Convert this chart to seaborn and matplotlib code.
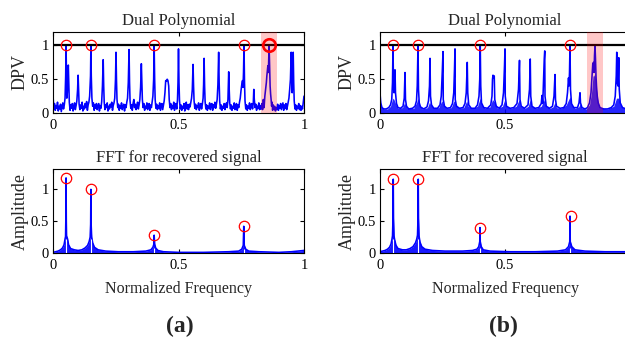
import matplotlib
matplotlib.use("Agg")
import matplotlib.pyplot as plt
import numpy as np
import pandas as pd
import seaborn as sns

# ---------------- data ----------------
ticks = [0, 0.5, 1]
tick_labels = ["0", "0.5", "1"]
ticks_right = [0, 0.5]            # the "1" of panels (b) lies beyond the figure edge
tick_labels_right = ["0", "0.5"]

# Dual polynomial (a): (normalized frequency, DPV)
dpv_a = [
    (0.000, 0.26), (0.003, 0.08), (0.006, 0.14), (0.009, 0.04), (0.012, 0.11), (0.015, 0.07),
    (0.018, 0.16), (0.021, 0.03), (0.024, 0.10), (0.027, 0.06), (0.030, 0.13), (0.033, 0.02),
    (0.036, 0.09), (0.039, 0.15), (0.042, 0.06), (0.045, 0.12), (0.048, 0.22), (0.0505, 0.55),
    (0.052, 1.00), (0.0535, 0.55), (0.055, 0.22), (0.057, 0.30), (0.059, 0.55), (0.061, 0.71),
    (0.063, 0.45), (0.065, 0.16), (0.068, 0.04), (0.071, 0.12), (0.074, 0.07), (0.077, 0.14),
    (0.080, 0.03), (0.083, 0.10), (0.086, 0.15), (0.089, 0.05), (0.092, 0.11), (0.095, 0.18),
    (0.098, 0.35), (0.100, 0.56), (0.102, 0.32), (0.104, 0.13), (0.107, 0.05), (0.110, 0.12),
    (0.113, 0.07), (0.116, 0.16), (0.119, 0.03), (0.122, 0.10), (0.125, 0.06), (0.128, 0.14),
    (0.131, 0.08), (0.134, 0.17), (0.137, 0.04), (0.140, 0.12), (0.143, 0.16), (0.146, 0.25),
    (0.1495, 0.55), (0.151, 1.00), (0.1525, 0.55), (0.155, 0.22), (0.158, 0.10), (0.161, 0.15),
    (0.164, 0.04), (0.167, 0.12), (0.170, 0.07), (0.173, 0.14), (0.176, 0.05), (0.179, 0.10),
    (0.182, 0.14), (0.185, 0.03), (0.188, 0.11), (0.191, 0.07), (0.194, 0.17), (0.197, 0.40),
    (0.200, 0.79), (0.202, 0.40), (0.204, 0.16), (0.207, 0.05), (0.210, 0.12), (0.213, 0.08),
    (0.216, 0.15), (0.219, 0.03), (0.222, 0.10), (0.225, 0.06), (0.228, 0.13), (0.231, 0.09),
    (0.234, 0.16), (0.237, 0.04), (0.240, 0.11), (0.243, 0.15), (0.246, 0.22), (0.249, 0.50),
    (0.251, 0.90), (0.253, 0.48), (0.255, 0.20), (0.258, 0.08), (0.261, 0.13), (0.264, 0.04),
    (0.267, 0.11), (0.270, 0.07), (0.273, 0.15), (0.276, 0.05), (0.279, 0.10), (0.282, 0.13),
    (0.285, 0.03), (0.288, 0.12), (0.291, 0.08), (0.294, 0.16), (0.297, 0.22), (0.300, 0.45),
    (0.303, 0.94), (0.305, 0.45), (0.307, 0.18), (0.310, 0.07), (0.313, 0.12), (0.316, 0.04),
    (0.319, 0.14), (0.322, 0.20), (0.325, 0.08), (0.328, 0.13), (0.331, 0.05), (0.334, 0.11),
    (0.337, 0.16), (0.340, 0.06), (0.343, 0.12), (0.346, 0.20), (0.349, 0.38), (0.352, 0.73),
    (0.354, 0.45), (0.356, 0.20), (0.359, 0.08), (0.362, 0.14), (0.365, 0.04), (0.368, 0.10),
    (0.371, 0.07), (0.374, 0.15), (0.377, 0.05), (0.380, 0.11), (0.383, 0.14), (0.386, 0.04),
    (0.389, 0.12), (0.392, 0.08), (0.395, 0.17), (0.398, 0.25), (0.401, 0.50), (0.403, 1.00),
    (0.405, 0.50), (0.407, 0.20), (0.410, 0.07), (0.413, 0.13), (0.416, 0.05), (0.419, 0.11),
    (0.422, 0.07), (0.425, 0.15), (0.428, 0.04), (0.431, 0.10), (0.434, 0.14), (0.437, 0.05),
    (0.440, 0.12), (0.443, 0.18), (0.446, 0.30), (0.449, 0.48), (0.452, 0.47), (0.455, 0.50),
    (0.458, 0.48), (0.461, 0.40), (0.463, 0.20), (0.466, 0.08), (0.469, 0.14), (0.472, 0.05),
    (0.475, 0.11), (0.478, 0.07), (0.481, 0.16), (0.484, 0.04), (0.487, 0.10), (0.490, 0.14),
    (0.493, 0.06), (0.496, 0.20), (0.498, 0.45), (0.500, 0.95), (0.502, 0.45), (0.504, 0.18),
    (0.507, 0.06), (0.510, 0.12), (0.513, 0.04), (0.516, 0.10), (0.519, 0.07), (0.522, 0.14),
    (0.525, 0.03), (0.528, 0.11), (0.531, 0.16), (0.534, 0.06), (0.537, 0.12), (0.540, 0.05),
    (0.543, 0.13), (0.546, 0.09), (0.549, 0.16), (0.552, 0.22), (0.555, 0.35), (0.558, 0.72),
    (0.560, 0.40), (0.562, 0.18), (0.565, 0.07), (0.568, 0.13), (0.571, 0.05), (0.574, 0.11),
    (0.577, 0.08), (0.580, 0.15), (0.583, 0.04), (0.586, 0.10), (0.589, 0.14), (0.592, 0.06),
    (0.595, 0.13), (0.598, 0.22), (0.600, 0.42), (0.602, 0.81), (0.604, 0.40), (0.606, 0.17),
    (0.609, 0.06), (0.612, 0.12), (0.615, 0.04), (0.618, 0.10), (0.621, 0.07), (0.624, 0.15),
    (0.627, 0.05), (0.630, 0.11), (0.633, 0.14), (0.636, 0.04), (0.639, 0.12), (0.642, 0.08),
    (0.645, 0.16), (0.648, 0.07), (0.651, 0.13), (0.654, 0.20), (0.657, 0.42), (0.660, 0.90),
    (0.662, 0.45), (0.664, 0.18), (0.667, 0.06), (0.670, 0.12), (0.673, 0.04), (0.676, 0.10),
    (0.679, 0.07), (0.682, 0.14), (0.685, 0.05), (0.688, 0.11), (0.691, 0.15), (0.694, 0.08),
    (0.697, 0.20), (0.700, 0.61), (0.702, 0.35), (0.704, 0.15), (0.707, 0.06), (0.710, 0.12),
    (0.713, 0.04), (0.716, 0.10), (0.719, 0.07), (0.722, 0.15), (0.725, 0.05), (0.728, 0.11),
    (0.731, 0.14), (0.734, 0.04), (0.737, 0.12), (0.740, 0.08), (0.743, 0.16), (0.746, 0.22),
    (0.749, 0.33), (0.752, 0.42), (0.755, 0.48), (0.757, 0.38), (0.759, 0.60), (0.761, 1.00),
    (0.763, 0.45), (0.765, 0.18), (0.768, 0.06), (0.771, 0.12), (0.774, 0.04), (0.777, 0.10),
    (0.780, 0.07), (0.783, 0.15), (0.786, 0.05), (0.789, 0.11), (0.792, 0.14), (0.795, 0.06),
    (0.798, 0.15), (0.800, 0.35), (0.802, 0.20), (0.805, 0.08), (0.808, 0.13), (0.811, 0.04),
    (0.814, 0.10), (0.817, 0.07), (0.820, 0.15), (0.823, 0.05), (0.826, 0.11), (0.829, 0.06),
    (0.832, 0.14), (0.835, 0.05), (0.838, 0.20), (0.841, 0.08), (0.844, 0.25), (0.847, 0.35),
    (0.850, 0.45), (0.852, 0.55), (0.854, 0.62), (0.856, 0.70), (0.858, 0.60), (0.860, 0.85),
    (0.861, 1.00), (0.863, 0.70), (0.865, 0.40), (0.867, 0.28), (0.869, 0.20), (0.871, 0.10),
    (0.873, 0.16), (0.875, 0.04), (0.877, 0.12), (0.880, 0.06), (0.883, 0.10), (0.886, 0.03),
    (0.889, 0.08), (0.892, 0.05), (0.895, 0.13), (0.898, 0.04), (0.901, 0.11), (0.904, 0.07),
    (0.907, 0.14), (0.910, 0.05), (0.913, 0.10), (0.916, 0.15), (0.919, 0.04), (0.922, 0.12),
    (0.925, 0.07), (0.928, 0.14), (0.931, 0.05), (0.934, 0.10), (0.937, 0.16), (0.940, 0.22),
    (0.943, 0.35), (0.946, 0.50), (0.949, 0.90), (0.951, 0.50), (0.953, 0.30), (0.955, 0.55),
    (0.957, 0.90), (0.959, 0.45), (0.961, 0.18), (0.964, 0.06), (0.967, 0.12), (0.970, 0.04),
    (0.973, 0.10), (0.976, 0.07), (0.979, 0.14), (0.982, 0.05), (0.985, 0.11), (0.988, 0.04),
    (0.991, 0.10), (0.994, 0.06), (0.997, 0.15), (1.000, 0.25),
]

# Dual polynomial (b)
dpv_b = [
    (0.000, 0.30), (0.003, 0.15), (0.008, 0.08), (0.015, 0.06), (0.025, 0.06), (0.035, 0.08),
    (0.042, 0.12), (0.047, 0.20), (0.050, 0.45), (0.052, 1.00), (0.054, 0.40), (0.056, 0.30),
    (0.058, 0.50), (0.060, 0.64), (0.062, 0.30), (0.066, 0.14), (0.072, 0.08), (0.082, 0.07),
    (0.092, 0.10), (0.097, 0.22), (0.100, 0.60), (0.102, 0.20), (0.106, 0.10), (0.115, 0.06),
    (0.130, 0.07), (0.140, 0.10), (0.146, 0.18), (0.149, 0.40), (0.152, 1.00), (0.154, 0.35),
    (0.157, 0.15), (0.162, 0.09), (0.175, 0.06), (0.188, 0.09), (0.194, 0.18), (0.198, 0.40),
    (0.200, 0.81), (0.202, 0.25), (0.206, 0.12), (0.215, 0.07), (0.230, 0.07), (0.240, 0.12),
    (0.245, 0.25), (0.249, 0.60), (0.252, 0.91), (0.253, 0.20), (0.258, 0.10), (0.268, 0.07),
    (0.282, 0.08), (0.290, 0.14), (0.295, 0.30), (0.298, 0.65), (0.300, 0.95), (0.301, 0.20),
    (0.306, 0.10), (0.318, 0.07), (0.332, 0.08), (0.340, 0.14), (0.345, 0.30), (0.349, 0.75),
    (0.351, 0.30), (0.355, 0.12), (0.365, 0.07), (0.380, 0.07), (0.390, 0.12), (0.396, 0.25),
    (0.399, 0.50), (0.401, 1.00), (0.403, 0.40), (0.406, 0.15), (0.415, 0.08), (0.430, 0.07),
    (0.443, 0.12), (0.448, 0.25), (0.450, 0.50), (0.452, 0.56), (0.455, 0.52), (0.457, 0.55),
    (0.459, 0.20), (0.465, 0.10), (0.477, 0.07), (0.488, 0.12), (0.494, 0.30), (0.498, 0.70),
    (0.500, 0.95), (0.501, 0.25), (0.506, 0.10), (0.520, 0.07), (0.535, 0.08), (0.548, 0.14),
    (0.554, 0.35), (0.558, 0.78), (0.560, 0.20), (0.565, 0.10), (0.578, 0.07), (0.592, 0.12),
    (0.598, 0.35), (0.601, 0.80), (0.603, 0.25), (0.608, 0.10), (0.620, 0.07), (0.635, 0.08),
    (0.645, 0.14), (0.648, 0.26), (0.651, 0.14), (0.653, 0.35), (0.657, 0.80), (0.659, 0.92),
    (0.660, 0.25), (0.665, 0.10), (0.678, 0.07), (0.690, 0.10), (0.696, 0.25), (0.700, 0.57),
    (0.702, 0.20), (0.706, 0.10), (0.720, 0.07), (0.735, 0.08), (0.745, 0.14), (0.750, 0.30),
    (0.754, 0.52), (0.756, 0.40), (0.758, 0.60), (0.760, 1.00), (0.762, 0.35), (0.766, 0.14),
    (0.775, 0.08), (0.790, 0.08), (0.796, 0.15), (0.800, 0.30), (0.802, 0.15), (0.808, 0.08),
    (0.820, 0.06), (0.830, 0.08), (0.838, 0.15), (0.844, 0.30), (0.848, 0.55), (0.851, 0.72),
    (0.854, 0.75), (0.856, 0.60), (0.858, 0.85), (0.860, 1.00), (0.862, 0.80), (0.864, 0.55),
    (0.866, 0.40), (0.869, 0.25), (0.873, 0.15), (0.880, 0.08), (0.895, 0.06), (0.910, 0.06),
    (0.925, 0.08), (0.935, 0.12), (0.941, 0.25), (0.945, 0.55), (0.947, 0.90), (0.949, 0.45),
    (0.952, 0.40), (0.955, 0.82), (0.957, 0.35), (0.961, 0.15), (0.970, 0.08), (0.985, 0.06),
    (1.000, 0.10),
]

# dense low-level band under the (b) dual polynomial
floor_b = [
    (0.000, 0.28), (0.004, 0.10), (0.015, 0.06), (0.030, 0.06), (0.042, 0.10), (0.048, 0.18),
    (0.052, 0.22), (0.056, 0.20), (0.062, 0.14), (0.072, 0.07), (0.090, 0.08), (0.098, 0.15),
    (0.102, 0.12), (0.110, 0.07), (0.135, 0.07), (0.146, 0.15), (0.152, 0.22), (0.158, 0.12),
    (0.170, 0.06), (0.190, 0.08), (0.198, 0.16), (0.203, 0.12), (0.215, 0.07), (0.235, 0.08),
    (0.247, 0.18), (0.253, 0.14), (0.265, 0.07), (0.285, 0.08), (0.296, 0.18), (0.302, 0.14),
    (0.315, 0.07), (0.335, 0.08), (0.347, 0.18), (0.353, 0.10), (0.370, 0.07), (0.390, 0.10),
    (0.401, 0.22), (0.407, 0.12), (0.420, 0.07), (0.440, 0.09), (0.450, 0.20), (0.459, 0.16),
    (0.470, 0.07), (0.490, 0.10), (0.499, 0.20), (0.504, 0.10), (0.525, 0.07), (0.545, 0.10),
    (0.557, 0.20), (0.562, 0.10), (0.580, 0.07), (0.593, 0.10), (0.601, 0.20), (0.606, 0.10),
    (0.625, 0.07), (0.645, 0.10), (0.658, 0.20), (0.663, 0.10), (0.680, 0.07), (0.692, 0.09),
    (0.700, 0.16), (0.706, 0.08), (0.725, 0.07), (0.745, 0.12), (0.760, 0.24), (0.766, 0.12),
    (0.780, 0.07), (0.795, 0.09), (0.801, 0.14), (0.808, 0.07), (0.825, 0.06), (0.838, 0.12),
    (0.846, 0.30), (0.852, 0.55), (0.856, 0.55), (0.860, 0.60), (0.866, 0.35), (0.872, 0.15),
    (0.882, 0.07), (0.910, 0.06), (0.935, 0.10), (0.946, 0.22), (0.956, 0.22), (0.962, 0.12),
    (0.975, 0.07), (1.000, 0.08),
]

# FFT amplitude of the recovered signal
fft_a = [
    (0.000, 0.01), (0.010, 0.02), (0.020, 0.03), (0.030, 0.05), (0.038, 0.08), (0.044, 0.13),
    (0.048, 0.22), (0.050, 0.26), (0.051, 0.50), (0.052, 1.18), (0.053, 0.50), (0.054, 0.27),
    (0.058, 0.22), (0.062, 0.13), (0.070, 0.07), (0.085, 0.05), (0.100, 0.04), (0.115, 0.05),
    (0.128, 0.08), (0.138, 0.12), (0.144, 0.18), (0.148, 0.25), (0.150, 0.45), (0.151, 1.00),
    (0.152, 0.45), (0.154, 0.25), (0.158, 0.16), (0.165, 0.09), (0.180, 0.05), (0.210, 0.03),
    (0.260, 0.02), (0.320, 0.02), (0.370, 0.03), (0.390, 0.05), (0.398, 0.09), (0.402, 0.14),
    (0.403, 0.28), (0.405, 0.14), (0.409, 0.08), (0.418, 0.04), (0.440, 0.02), (0.500, 0.01),
    (0.600, 0.01), (0.700, 0.02), (0.740, 0.03), (0.752, 0.06), (0.758, 0.12), (0.760, 0.42),
    (0.762, 0.12), (0.768, 0.06), (0.780, 0.03), (0.820, 0.02), (0.900, 0.01), (0.950, 0.02),
    (1.000, 0.04),
]
fft_b = [
    (0.000, 0.02), (0.010, 0.03), (0.020, 0.04), (0.030, 0.06), (0.038, 0.09), (0.044, 0.14),
    (0.048, 0.22), (0.050, 0.27), (0.052, 0.55), (0.053, 1.16), (0.054, 0.55), (0.056, 0.27),
    (0.059, 0.20), (0.064, 0.12), (0.072, 0.07), (0.090, 0.05), (0.105, 0.05), (0.120, 0.07),
    (0.132, 0.10), (0.142, 0.16), (0.147, 0.22), (0.150, 0.28), (0.152, 0.55), (0.153, 1.16),
    (0.154, 0.55), (0.156, 0.27), (0.160, 0.17), (0.167, 0.10), (0.180, 0.06), (0.210, 0.04),
    (0.260, 0.03), (0.330, 0.03), (0.370, 0.04), (0.388, 0.06), (0.395, 0.10), (0.399, 0.18),
    (0.400, 0.40), (0.401, 0.18), (0.405, 0.10), (0.413, 0.05), (0.440, 0.03), (0.520, 0.02),
    (0.620, 0.02), (0.710, 0.03), (0.742, 0.05), (0.754, 0.10), (0.759, 0.18), (0.760, 0.58),
    (0.761, 0.18), (0.767, 0.10), (0.780, 0.05), (0.820, 0.03), (0.900, 0.02), (1.000, 0.02),
]

# circled (detected) peaks
circ_dpv_a_x = [0.052, 0.153, 0.402, 0.762]
circ_dpv_a_y = [1.0, 1.0, 1.0, 1.0]
bold_circ_a = (0.862, 1.0)
circ_dpv_b_x = [0.051, 0.153, 0.400, 0.760]
circ_dpv_b_y = [1.0, 1.0, 1.0, 1.0]
circ_fft_a_x = [0.052, 0.151, 0.403, 0.760]
circ_fft_a_y = [1.18, 1.00, 0.28, 0.43]
circ_fft_b_x = [0.053, 0.153, 0.400, 0.762]
circ_fft_b_y = [1.16, 1.16, 0.40, 0.58]
# white centre gaps of the spectral skirts
gap_a = [(0.052, 0.22), (0.151, 0.22), (0.403, 0.08), (0.760, 0.06)]
gap_b = [(0.053, 0.22), (0.153, 0.22), (0.400, 0.08), (0.760, 0.08)]
# shaded spurious-peak band
band_a = (0.829, 0.891)
band_b = (0.829, 0.893)

# ---------------- style ----------------
sns.set_style("ticks")
plt.rcParams["font.family"] = ["Liberation Serif", "DejaVu Serif"]
plt.rcParams.update({
    "xtick.direction": "in", "ytick.direction": "in",
    "xtick.top": True, "ytick.right": True,
    "xtick.major.size": 3, "ytick.major.size": 3,
    "xtick.major.width": 0.8, "ytick.major.width": 0.8,
    "axes.linewidth": 0.8, "axes.edgecolor": "black",
    "xtick.color": "black", "ytick.color": "black",
    "xtick.labelsize": 10.5, "ytick.labelsize": 10.5,
})

W, H = 625, 339
fig = plt.figure(figsize=(W / 100, H / 100), dpi=100)


def add_ax(x0, y0, x1, y1):
    return fig.add_axes([x0 / W, 1 - y1 / H, (x1 - x0) / W, (y1 - y0) / H])


def frame(ax, ymax, ylabel, title, xt, xtl, xlabel=None):
    ax.set_xlim(0, 1)
    ax.set_ylim(0, ymax)
    ax.set_xticks(xt)
    ax.set_xticklabels(xtl)
    ax.set_yticks(ticks)
    ax.set_yticklabels(tick_labels)
    ax.tick_params(axis="x", pad=4.5)
    ax.tick_params(axis="y", pad=3)
    ax.set_title(title, fontsize=12, pad=5)
    ax.set_ylabel(ylabel, fontsize=13)
    ax.yaxis.set_label_coords(-0.098, 0.5)
    if xlabel:
        ax.set_xlabel(xlabel, fontsize=11.5)
        ax.xaxis.set_label_coords(0.5, -0.33)
    else:
        ax.set_xlabel("")


def line(ax, pts):
    df = pd.DataFrame(pts, columns=["f", "v"])
    sns.lineplot(data=df, x="f", y="v", ax=ax, color="#0000ff", lw=1.15,
                 estimator=None, sort=False)


def circles(ax, xs, ys, ms=7.5, mew=0.9):
    df = pd.DataFrame({"f": xs, "v": ys})
    sns.lineplot(data=df, x="f", y="v", ax=ax, marker="o", linestyle="",
                 markerfacecolor="none", markeredgecolor="red", markersize=ms,
                 markeredgewidth=mew, color="red", estimator=None, sort=False, zorder=6)


def dpv_panel(ax, pts, band, cx, cy, floor=None, bold=None):
    if floor is not None:
        fdf = pd.DataFrame(floor, columns=["f", "v"])
        ax.fill_between(fdf["f"], 0, fdf["v"], color="#0000ff", lw=0, alpha=0.85)
    line(ax, pts)
    ax.axhline(1.0, color="black", lw=1.6, zorder=4)
    ax.axvspan(band[0], band[1], color="red", alpha=0.22, lw=0, zorder=5)
    circles(ax, cx, cy)
    if bold is not None:
        circles(ax, [bold[0]], [bold[1]], ms=9, mew=1.9)


def fft_panel(ax, pts, cx, cy, gaps):
    df = pd.DataFrame(pts, columns=["f", "v"])
    ax.fill_between(df["f"], 0, df["v"], color="#0000ff", lw=0, alpha=0.9)
    line(ax, pts)
    for gx, gy in gaps:
        ax.vlines(gx, 0, gy, color="white", lw=0.8, zorder=3)
    circles(ax, cx, cy)


ax1 = add_ax(53, 32, 304, 113)
dpv_panel(ax1, dpv_a, band_a, circ_dpv_a_x, circ_dpv_a_y, bold=bold_circ_a)
frame(ax1, 1.2, "DPV", "Dual Polynomial", ticks, tick_labels)

ax2 = add_ax(380, 32, 630, 113)
dpv_panel(ax2, dpv_b, band_b, circ_dpv_b_x, circ_dpv_b_y, floor=floor_b)
frame(ax2, 1.2, "DPV", "Dual Polynomial", ticks_right, tick_labels_right)

ax3 = add_ax(53, 169, 304, 253)
fft_panel(ax3, fft_a, circ_fft_a_x, circ_fft_a_y, gap_a)
frame(ax3, 1.32, "Amplitude", "FFT for recovered signal", ticks, tick_labels,
      "Normalized Frequency")

ax4 = add_ax(380, 169, 630, 253)
fft_panel(ax4, fft_b, circ_fft_b_x, circ_fft_b_y, gap_b)
frame(ax4, 1.32, "Amplitude", "FFT for recovered signal", ticks_right, tick_labels_right,
      "Normalized Frequency")

for ax in (ax1, ax2, ax3, ax4):
    leg = ax.get_legend()
    if leg is not None:
        leg.remove()

fig.text(180 / W, 1 - 326 / H, "(a)", ha="center", va="center", fontsize=17, fontweight="bold")
fig.text(503 / W, 1 - 326 / H, "(b)", ha="center", va="center", fontsize=17, fontweight="bold")

fig.savefig("out.png", dpi=100)
